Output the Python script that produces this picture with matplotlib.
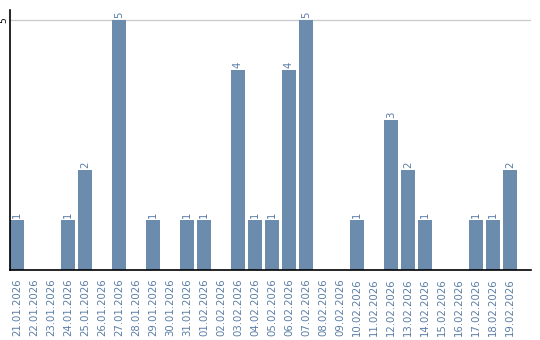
import matplotlib
matplotlib.use("Agg")
import matplotlib.pyplot as plt

dates = [
    "21.01.2026", "22.01.2026", "23.01.2026", "24.01.2026", "25.01.2026",
    "26.01.2026", "27.01.2026", "28.01.2026", "29.01.2026", "30.01.2026",
    "31.01.2026", "01.02.2026", "02.02.2026", "03.02.2026", "04.02.2026",
    "05.02.2026", "06.02.2026", "07.02.2026", "08.02.2026", "09.02.2026",
    "10.02.2026", "11.02.2026", "12.02.2026", "13.02.2026", "14.02.2026",
    "15.02.2026", "16.02.2026", "17.02.2026", "18.02.2026", "19.02.2026",
]
counts = [1, 0, 0, 1, 2, 0, 5, 0, 1, 0,
          1, 1, 0, 4, 1, 1, 4, 5, 0, 0,
          1, 0, 3, 2, 1, 0, 0, 1, 1, 2]

bar_color = "#6b8cac"
text_color = "#5a7da6"

fig = plt.figure(figsize=(5.4, 3.4), dpi=100)
ax = fig.add_axes([10 / 540, 1 - 270 / 340, 521 / 540, 260 / 340])

x = list(range(len(dates)))
width = 14 / 17
ax.bar(x, counts, width=width, color=bar_color, zorder=2)

for xi, c in zip(x, counts):
    if c > 0:
        ax.text(xi, c + 0.05, str(c), rotation=90, ha="center", va="bottom",
                fontsize=7.3, color=text_color)

ax.set_xlim(-width / 2, -width / 2 + 521 / 17)
ax.set_ylim(0, 5.2)
ax.axhline(5, color="#cccccc", lw=1, zorder=1)

ax.set_xticks(x)
ax.set_xticklabels(dates, rotation=90, fontsize=7.3, color=text_color)
ax.set_yticks([5])
ax.set_yticklabels(["5"], rotation=90, fontsize=6.5, va="center")
ax.tick_params(axis="both", length=0)
ax.tick_params(axis="x", pad=6)
ax.tick_params(axis="y", pad=1)

for side in ["top", "right"]:
    ax.spines[side].set_visible(False)
ax.spines["left"].set_linewidth(1.2)
ax.spines["bottom"].set_linewidth(1.2)

fig.savefig("out.png", dpi=100)
